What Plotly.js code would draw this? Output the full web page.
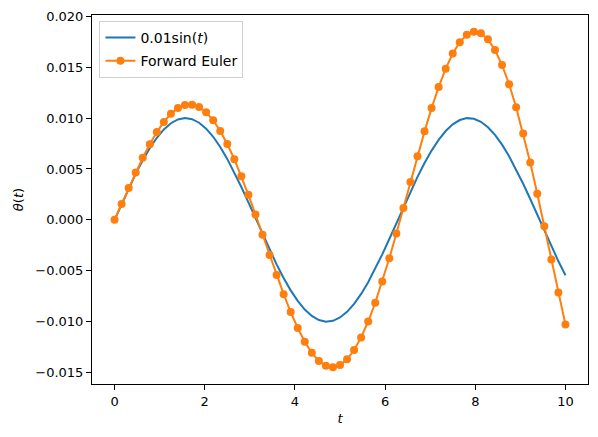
<!DOCTYPE html>
<html>
<head>
<meta charset="utf-8">
<script src="https://cdn.plot.ly/plotly-3.0.1.min.js"></script>
<style>
  html, body { margin: 0; padding: 0; background: #fff; }
  #plot { width: 598px; height: 437px; }
</style>
</head>
<body>
<div id="plot"></div>
<script>
// time samples (65 points, 0..10)
var t = [
  0, 0.15625, 0.3125, 0.46875, 0.625, 0.78125, 0.9375, 1.09375, 1.25, 1.40625,
  1.5625, 1.71875, 1.875, 2.03125, 2.1875, 2.34375, 2.5, 2.65625, 2.8125, 2.96875,
  3.125, 3.28125, 3.4375, 3.59375, 3.75, 3.90625, 4.0625, 4.21875, 4.375, 4.53125,
  4.6875, 4.84375, 5, 5.15625, 5.3125, 5.46875, 5.625, 5.78125, 5.9375, 6.09375,
  6.25, 6.40625, 6.5625, 6.71875, 6.875, 7.03125, 7.1875, 7.34375, 7.5, 7.65625,
  7.8125, 7.96875, 8.125, 8.28125, 8.4375, 8.59375, 8.75, 8.90625, 9.0625, 9.21875,
  9.375, 9.53125, 9.6875, 9.84375, 10
];

// exact curve 0.01 sin(t)
var exact = [
  0, 0.001556, 0.003074, 0.004518, 0.005851, 0.007042, 0.008061, 0.008884, 0.009490, 0.009865,
  0.010000, 0.009891, 0.009541, 0.008959, 0.008158, 0.007159, 0.005985, 0.004665, 0.003232, 0.001720,
  0.000166, -0.001392, -0.002916, -0.004369, -0.005716, -0.006923, -0.007961, -0.008806, -0.009436, -0.009836,
  -0.009997, -0.009914, -0.009589, -0.009031, -0.008253, -0.007273, -0.006117, -0.004811, -0.003388, -0.001883,
  -0.000332, 0.001228, 0.002757, 0.004219, 0.005579, 0.006802, 0.007860, 0.008726, 0.009380, 0.009805,
  0.009991, 0.009934, 0.009635, 0.009101, 0.008345, 0.007386, 0.006247, 0.004956, 0.003544, 0.002046,
  0.000498, -0.001063, -0.002597, -0.004068, -0.005440
];

// forward Euler solution
var euler = [
  0, 0.001563, 0.003125, 0.004649, 0.006098, 0.007432, 0.008618, 0.009622, 0.010416, 0.010975,
  0.011279, 0.011316, 0.011077, 0.010562, 0.009777, 0.008734, 0.007452, 0.005957, 0.004280, 0.002457,
  0.000530, -0.001457, -0.003457, -0.005421, -0.007301, -0.009049, -0.010618, -0.011967, -0.013056, -0.013853,
  -0.014331, -0.014471, -0.014262, -0.013699, -0.012787, -0.011542, -0.009984, -0.008144, -0.006060, -0.003778,
  -0.001348, 0.001175, 0.003730, 0.006257, 0.008692, 0.010975, 0.013046, 0.014849, 0.016333, 0.017455,
  0.018178, 0.018475, 0.018328, 0.017730, 0.016684, 0.015206, 0.013320, 0.011064, 0.008481, 0.005629,
  0.002570, -0.000627, -0.003886, -0.007130, -0.010279
];

var xTicks = [0, 2, 4, 6, 8, 10];
var yTicks = [-0.015, -0.010, -0.005, 0.000, 0.005, 0.010, 0.015, 0.020];

var exactTrace = {
  x: t,
  y: exact,
  name: '0.01sin(<i>t</i>)',
  legendgroup: 'exact',
  type: 'scatter',
  mode: 'lines',
  line: {color: '#1f77b4', width: 2}
};

var eulerTrace = {
  x: t,
  y: euler,
  name: 'Forward Euler',
  legendgroup: 'euler',
  type: 'scatter',
  mode: 'lines+markers',
  line: {color: '#ff7f0e', width: 2},
  marker: {color: '#ff7f0e', size: 8}
};

var axisStyle = {
  showgrid: false,
  zeroline: false,
  showline: true,
  mirror: true,
  linecolor: '#000',
  linewidth: 1,
  ticks: 'outside',
  ticklen: 5,
  tickwidth: 1,
  tickcolor: '#000',
  tickfont: {family: 'DejaVu Sans', size: 13, color: '#000'}
};

var layout = {
  width: 598,
  height: 437,
  margin: {l: 92, r: 10, t: 15, b: 53},
  paper_bgcolor: '#fff',
  plot_bgcolor: '#fff',
  font: {family: 'DejaVu Sans', size: 13, color: '#000'},
  showlegend: true,
  legend: {
    x: 0.015, y: 0.984, xanchor: 'left', yanchor: 'top',
    traceorder: 'grouped',
    tracegroupgap: 2,
    bgcolor: 'rgba(255,255,255,0.8)',
    bordercolor: '#d0d0d0',
    borderwidth: 1,
    font: {family: 'DejaVu Sans', size: 14, color: '#000'}
  },
  xaxis: Object.assign({}, axisStyle, {
    range: [-0.5, 10.5],
    tickvals: xTicks,
    ticktext: xTicks.map(String),
    title: {text: '<i>t</i>', font: {family: 'DejaVu Sans', size: 13}, standoff: 6}
  }),
  yaxis: Object.assign({}, axisStyle, {
    range: [-0.01612, 0.02012],
    tickvals: yTicks,
    tickformat: '.3f',
    title: {text: '<i>θ</i>(<i>t</i>)', font: {family: 'DejaVu Sans', size: 13}, standoff: 8}
  })
};

Plotly.newPlot('plot', [exactTrace, eulerTrace], layout, {staticPlot: true, displayModeBar: false});
</script>
</body>
</html>
